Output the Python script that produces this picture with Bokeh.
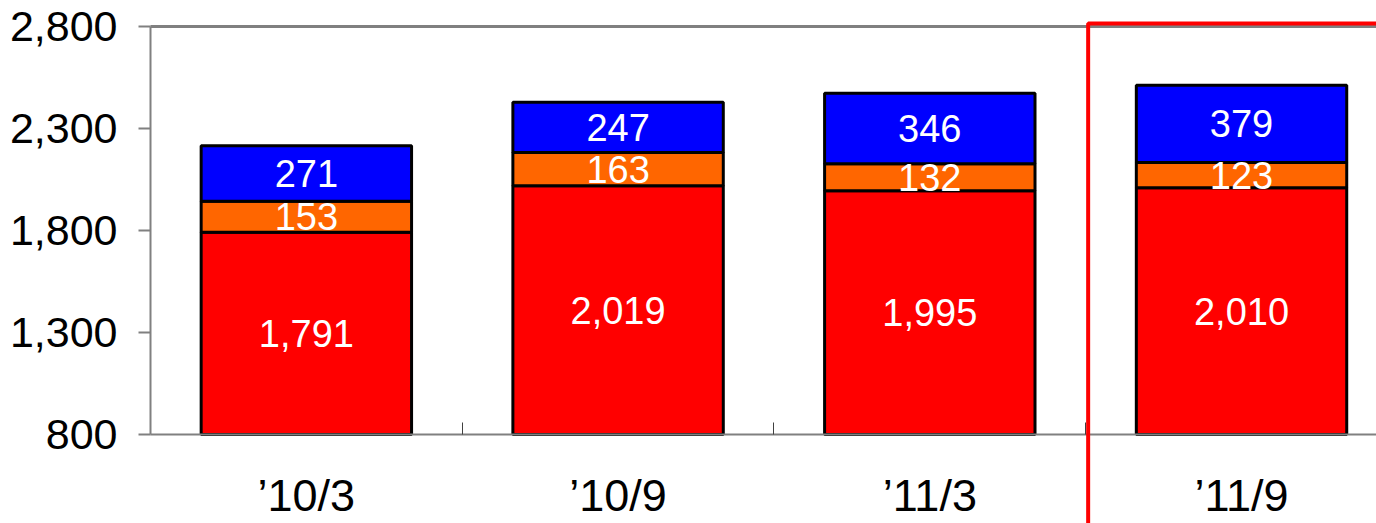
from bokeh.plotting import figure
from bokeh.models import (ColumnDataSource, Range1d, FixedTicker, NumeralTickFormatter,
                          LinearAxis, BoxAnnotation)
from bokeh.core.properties import value
from bokeh.embed import file_html
from bokeh.resources import INLINE

# ---- data ----
categories = ["’10/3", "’10/9", "’11/3", "’11/9"]
red_vals = [1791, 2019, 1995, 2010]
orange_vals = [153, 163, 132, 123]
blue_vals = [271, 247, 346, 379]
y_ticks = [800, 1300, 1800, 2300, 2800]
highlight_index = 3

FONT = "Liberation Sans"

xs = [i + 0.5 for i in range(len(categories))]
base = y_ticks[0]
red_top = red_vals
orange_top = [r + o for r, o in zip(red_vals, orange_vals)]
blue_top = [t + b for t, b in zip(orange_top, blue_vals)]

src = ColumnDataSource(dict(
    x=xs,
    base=[base] * len(xs),
    red_top=red_top,
    orange_top=orange_top,
    blue_top=blue_top,
    red_mid=[(base + r) / 2 for r in red_top],
    orange_mid=[(r + o) / 2 for r, o in zip(red_top, orange_top)],
    blue_mid=[(o + b) / 2 for o, b in zip(orange_top, blue_top)],
    red_lbl=[f"{v:,}" for v in red_vals],
    orange_lbl=[f"{v:,}" for v in orange_vals],
    blue_lbl=[f"{v:,}" for v in blue_vals],
))

# frame covers the whole canvas; axes are pinned with fixed_location
X_END = 3.933
p = figure(width=1376, height=523, output_backend="svg", toolbar_location=None,
           x_range=Range1d(-0.4812, X_END), y_range=Range1d(363.7, 2927.5),
           frame_width=1376, frame_height=523,
           min_border_left=0, min_border_top=0, min_border_right=0, min_border_bottom=0)
p.outline_line_color = None
p.xgrid.visible = False
p.ygrid.visible = False
p.background_fill_color = "white"
p.border_fill_color = "white"

W = 0.675
p.vbar(x="x", bottom="base", top="red_top", width=W, source=src,
       fill_color="#FF0000", line_color="black", line_width=3)
p.vbar(x="x", bottom="red_top", top="orange_top", width=W, source=src,
       fill_color="#FF6600", line_color="black", line_width=3)
p.vbar(x="x", bottom="orange_top", top="blue_top", width=W, source=src,
       fill_color="#0000FF", line_color="black", line_width=3)

for ycol, lcol in [("red_mid", "red_lbl"), ("orange_mid", "orange_lbl"), ("blue_mid", "blue_lbl")]:
    p.text(x="x", y=ycol, text=lcol, source=src, text_color="white",
           text_font=value(FONT), text_font_size="38px",
           text_align="center", text_baseline="middle")

# y axis
ya = p.yaxis[0]
ya.fixed_location = 0
ya.bounds = (y_ticks[0], y_ticks[-1])
ya.ticker = FixedTicker(ticks=y_ticks)
ya.formatter = NumeralTickFormatter(format="0,0")
ya.axis_line_color = "#808080"
ya.axis_line_width = 2
ya.major_tick_in = 0
ya.major_tick_out = 12
ya.major_tick_line_color = "#808080"
ya.major_tick_line_width = 2
ya.minor_tick_line_color = None
ya.major_label_text_font = FONT
ya.major_label_text_font_size = "43px"
ya.major_label_text_color = "black"
ya.major_label_standoff = 21

# x axis
xa = p.xaxis[0]
xa.fixed_location = y_ticks[0]
xa.bounds = (0, X_END)
xa.ticker = FixedTicker(ticks=xs, minor_ticks=[1, 2, 3])
xa.major_label_overrides = {x: c for x, c in zip(xs, categories)}
xa.axis_line_color = "#808080"
xa.axis_line_width = 2
xa.major_tick_in = 0
xa.major_tick_out = 0
xa.minor_tick_in = 12
xa.minor_tick_out = 0
xa.minor_tick_line_color = "#404040"
xa.major_label_text_font = FONT
xa.major_label_text_font_size = "45px"
xa.major_label_text_color = "black"
xa.major_label_standoff = 36

# top border line
top_axis = LinearAxis(ticker=FixedTicker(ticks=[]), major_label_text_font_size="0px",
                      fixed_location=y_ticks[-1], bounds=(0, X_END),
                      axis_line_color="#808080", axis_line_width=3,
                      major_tick_line_color=None, minor_tick_line_color=None)
p.add_layout(top_axis, "above")

# highlight box around the last period
hl = BoxAnnotation(left=highlight_index + 0.008, top=2815, right=X_END + 0.2, bottom=200,
                   fill_color=None, fill_alpha=0,
                   line_color="#FF0000", line_width=4, line_alpha=1.0, level="overlay")
p.add_layout(hl)

open("out.html", "w").write(file_html(p, INLINE))
